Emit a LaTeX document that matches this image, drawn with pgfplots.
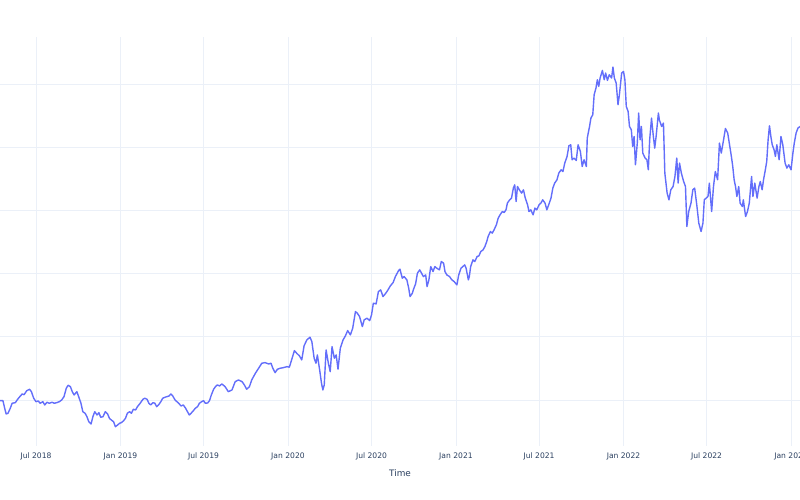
\documentclass[border=0pt]{standalone}
\usepackage{fontspec}
\setmainfont{DejaVu Sans}
\usepackage{pgfplots}
\pgfplotsset{compat=1.18}
\definecolor{plotline}{HTML}{636EFA}
\definecolor{gridc}{HTML}{EBF0F8}
\definecolor{textc}{HTML}{2A3F5F}
\pgfplotstableread{
day value
103 62.3
109 62.3
112 56.3
116 49
120 49.7
125 54.7
129 59.7
136 60.3
141 63.7
147 67
151 69
155 68.3
161 72.3
167 73.7
171 71.3
176 64.7
181 61.3
186 62
190 59.7
196 61.3
200 58
205 60.7
210 59.7
216 60.7
221 59.7
226 60.3
232 61.3
237 63
242 66.3
247 74.7
251 77.7
256 76.3
260 71.3
264 68
270 71.3
274 66.3
279 59.7
283 51.3
288 49.7
292 46.3
296 41.3
301 39
305 46.3
309 51.3
314 48
318 50.3
322 45.7
327 46.3
332 51.3
337 49
341 44.7
345 43
350 41.3
354 36.3
359 38
363 39.7
367 40.3
372 42.3
376 44.7
380 49.7
385 51.3
389 49.7
393 53.7
398 53
402 56.3
408 59.7
414 63.7
418 64.7
423 63.7
427 59.7
431 58
436 60.3
440 59.7
444 56.3
449 58.7
453 61.3
457 64.7
462 65.7
466 66.3
471 67
475 69
479 67
484 63
488 61.3
492 59.7
497 57
502 58
507 54.7
511 51.3
515 48
520 50.3
524 52.3
528 54.7
533 56.3
537 59.7
542 61.3
546 62.3
550 59.7
555 60
559 62.3
563 68
568 73.7
572 76.3
576 78
581 77
586 79
593 76.3
600 71.3
608 73
615 81.3
622 83
630 81.3
635 78
640 73.7
646 76.3
651 83
659 89.7
666 94.7
673 99.7
680 100.3
688 99
693 99.7
697 94.7
702 90.3
707 93.7
713 94.7
720 95.3
728 96.3
733 95.7
739 104.7
744 112.3
749 109.7
755 107
760 103
765 117
771 123
778 125.7
782 121.3
787 104.7
791 99.7
794 108
799 93
803 79.7
806 73
809 78
813 113
818 99.7
822 91.3
826 116.3
831 104.7
835 108
839 93.7
844 114.7
850 123
855 127
860 132.3
866 128
871 134.7
877 151.3
881 149.7
886 146.3
892 136.3
896 143
902 144.7
908 142.3
912 148
916 159.7
922 159
927 171.3
932 173
937 166.3
942 169
947 172.3
953 177
959 180.3
964 186.3
971 192.3
974 193.7
979 184.7
983 186.3
989 183
993 174.7
996 166.3
1001 169.7
1003 173
1008 179
1012 189.7
1017 193
1021 189.7
1025 186.3
1030 188
1033 176.3
1037 183
1041 196.3
1046 191.3
1050 196.3
1054 194.7
1060 193
1064 201.3
1069 199.7
1072 191.3
1076 188
1082 186.3
1087 183
1092 181.3
1098 178
1102 188
1107 194.7
1111 196.3
1115 198
1118 194.7
1123 183
1125 186.3
1128 196.3
1133 203
1137 201.3
1142 206.3
1146 207
1150 211.3
1155 213
1159 216.3
1163 221.3
1166 226.3
1171 231.3
1175 229.7
1179 233
1184 238
1188 244.7
1192 248
1197 251.3
1201 250.3
1205 253
1208 259.7
1213 263
1217 264.7
1221 274.7
1224 278
1227 261.3
1230 276.3
1234 273
1239 269.7
1243 273
1247 264.7
1252 258
1255 251.3
1259 253
1264 248
1268 254.7
1272 253
1277 258
1281 259.7
1285 263
1290 259.7
1294 253
1298 258
1303 264.7
1307 274.7
1311 279.7
1316 283
1320 289.7
1325 293
1329 291.3
1333 299.7
1338 306.3
1342 317
1346 318
1349 303
1353 304.7
1358 302.3
1362 318
1367 311.3
1371 296.3
1375 303
1380 296.3
1382 324.7
1387 336.3
1390 344.7
1394 348
1397 368
1401 374.7
1404 383
1407 376.3
1410 384.7
1415 392.3
1419 383
1422 389.7
1426 382.3
1430 388
1435 384.7
1438 395.7
1441 384.7
1445 379.7
1449 358
1452 368
1457 389.7
1461 391.3
1464 383
1467 356.3
1471 351.3
1474 336.3
1478 333
1481 316.3
1484 326.3
1487 298
1491 319.7
1494 349.7
1497 323
1500 336.3
1503 309.7
1508 304.7
1512 303
1515 293
1518 323
1522 344.7
1526 326.3
1529 314.7
1532 326.3
1537 349.7
1539 343
1544 336.3
1548 339.7
1551 289.7
1556 269.7
1560 263
1564 273
1569 276.3
1573 286.3
1577 304.7
1580 279.7
1583 299.7
1587 289.7
1592 281.3
1596 276.3
1599 236.3
1603 251.3
1608 259.7
1612 273
1616 274.7
1621 256.3
1625 239.7
1630 231.3
1634 239.7
1637 263
1641 264.7
1645 266.3
1648 279.7
1653 251.3
1657 276.3
1661 291.3
1666 283
1670 319.7
1674 309.7
1679 323
1683 334.3
1688 329.7
1692 318
1696 306.3
1699 296.3
1702 283
1705 276.3
1708 266.3
1712 276.3
1715 259.7
1720 256.3
1722 263
1727 246.3
1731 251.3
1735 259.7
1740 286.3
1743 266.3
1747 279.7
1752 264.7
1756 276.3
1759 281.3
1763 273
1766 283
1770 293
1773 301.3
1776 323
1779 337
1782 326.3
1785 318
1789 313
1792 306.3
1795 318
1800 303
1804 326.3
1808 318
1813 299.7
1817 294.7
1821 298
1826 293
1830 309.7
1833 319.7
1837 329.7
1841 334.7
1846 336.3
}\pricedata
\begin{document}
\begin{tikzpicture}
\path[use as bounding box] (0,0) rectangle (800pt,500pt);
\begin{axis}[
  at={(0pt,54pt)}, anchor=south west,
  width=800pt, height=409pt, scale only axis,
  xmin=102.6, xmax=1845.5, ymin=17, ymax=425.7,
  xtick={181,365,546,730,912,1096,1277,1461,1642,1826},
  xticklabels={Jul 2018,Jan 2019,Jul 2019,Jan 2020,Jul 2020,Jan 2021,Jul 2021,Jan 2022,Jul 2022,Jan 2023},
  ytick={63,126,189,252,315,378},
  yticklabels={},
  grid=major,
  major grid style={draw=gridc, line width=0.9pt},
  axis line style={draw=none},
  major tick length=0pt,
  tick style={draw=none},
  xticklabel style={font=\fontsize{7.6}{9}\selectfont, text=textc, anchor=base, yshift=-12.7pt, inner sep=0pt},
  xlabel={Time},
  xlabel style={font=\fontsize{8.9}{10}\selectfont, text=textc, at={(axis description cs:0.5,0)}, anchor=base, yshift=-30.2pt, inner sep=0pt},
  clip=true,
]
\addplot[plotline, line width=1.4pt, line join=round] table[x=day, y=value] {\pricedata};
\end{axis}
\end{tikzpicture}
\end{document}
